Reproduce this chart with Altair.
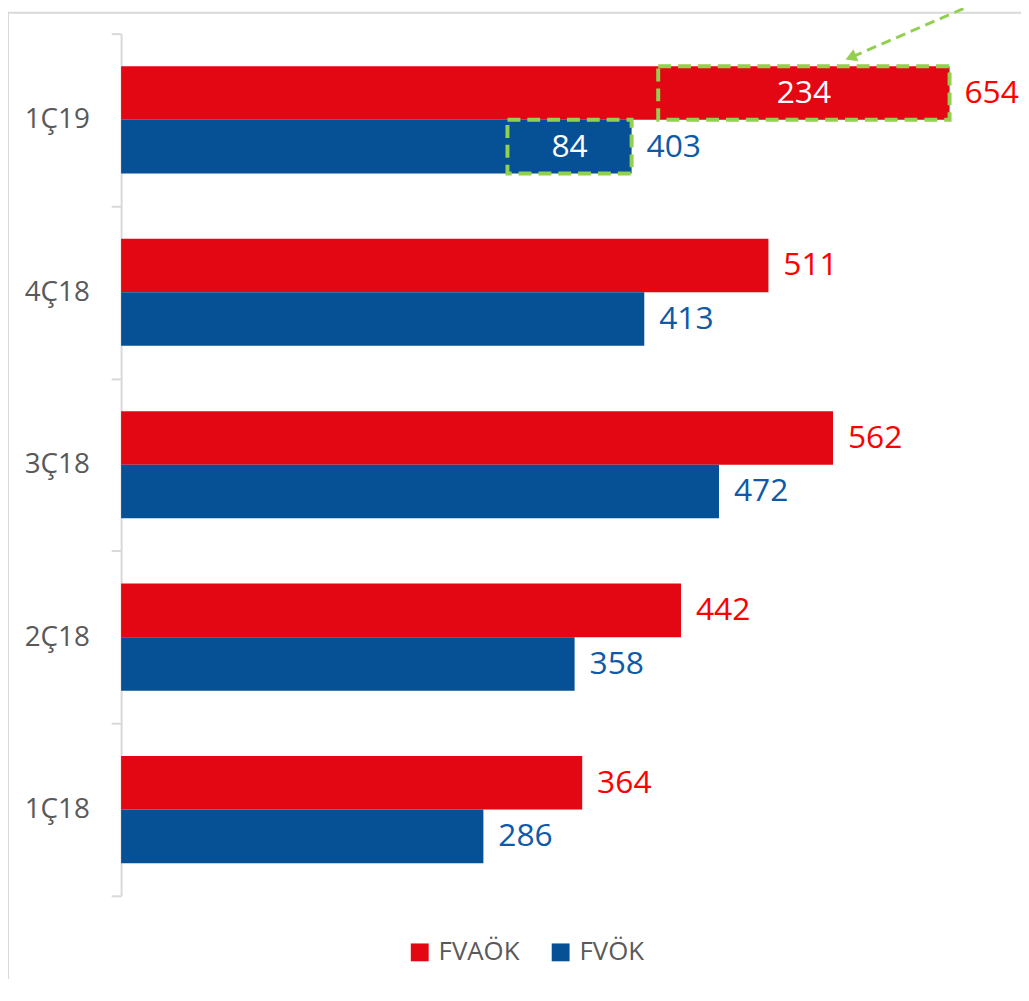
import altair as alt
import pandas as pd

# ---- data ----
quarters = ["1Ç19", "4Ç18", "3Ç18", "2Ç18", "1Ç18"]
series = ["FVAÖK", "FVÖK"]
fvaok = [654, 511, 562, 442, 364]
fvok = [403, 413, 472, 358, 286]

bar_colors = ["#E30613", "#065096"]
label_colors = ["#FF0000", "#0E5AA7"]

# highlighted (dashed) segments in 1Ç19
hl_quarter = ["1Ç19", "1Ç19"]
hl_series = ["FVAÖK", "FVÖK"]
hl_start = [424, 305]
hl_end = [654, 403]
hl_value = [234, 84]

# annotation arrow (x in data units)
arrow_from = [688]
arrow_to = [576]

GREEN = "#92D050"
FONT = "Open Sans"

rows = []
for q, a, b in zip(quarters, fvaok, fvok):
    rows.append({"quarter": q, "series": series[0], "value": a, "lab": label_colors[0]})
    rows.append({"quarter": q, "series": series[1], "value": b, "lab": label_colors[1]})
df = pd.DataFrame(rows)

df_hl = pd.DataFrame({
    "quarter": hl_quarter, "series": hl_series,
    "start": hl_start, "end": hl_end, "delta": hl_value,
})
df_arrow = pd.DataFrame({"x0": arrow_from, "x1": arrow_to})
df_one = pd.DataFrame({"a": [0]})

PLOT_W, PLOT_H = 907, 869
TOP = 22

x_scale = alt.Scale(domain=[0, max(fvaok)], range=[0, 835], nice=False, zero=True)
y_enc = alt.Y(
    "quarter:N", sort=quarters, title=None,
    scale=alt.Scale(paddingInner=0, paddingOuter=0, round=False),
    axis=alt.Axis(
        domainColor="#d9d9d9", domainWidth=2, tickColor="#d9d9d9", tickWidth=2,
        tickSize=10, tickBand="extent", labelFont=FONT, labelFontSize=28,
        labelColor="#595959", labelPadding=22, title=None,
    ),
)
yoff_enc = alt.YOffset("series:N", sort=series,
                       scale=alt.Scale(paddingInner=0, paddingOuter=0.61, round=False))

bars = alt.Chart(df).mark_bar(strokeWidth=0).encode(
    x=alt.X("value:Q", scale=x_scale, axis=None),
    y=y_enc,
    yOffset=yoff_enc,
    color=alt.Color(
        "series:N", sort=series,
        scale=alt.Scale(domain=series, range=bar_colors),
        legend=alt.Legend(
            title=None, orient="none", legendX=288, legendY=913,
            direction="horizontal", symbolType="square", symbolSize=324,
            symbolStrokeWidth=0, labelFont=FONT, labelFontSize=26,
            labelColor="#595959", labelOffset=6, columnPadding=28,
        ),
    ),
)

labels = alt.Chart(df).mark_text(
    align="left", baseline="middle", dx=15, fontSize=32, font=FONT
).encode(
    x=alt.X("value:Q", scale=x_scale, axis=None),
    y=alt.Y("quarter:N", sort=quarters),
    yOffset=yoff_enc,
    text=alt.Text("value:Q"),
    fill=alt.Fill("lab:N", scale=None),
)

boxes = alt.Chart(df_hl).mark_bar(
    fillOpacity=0, stroke=GREEN, strokeWidth=4, strokeDash=[13, 7]
).encode(
    x=alt.X("start:Q", scale=x_scale, axis=None),
    x2="end:Q",
    y=alt.Y("quarter:N", sort=quarters),
    yOffset=yoff_enc,
)

box_text = alt.Chart(df_hl).transform_calculate(
    mid="(datum.start + datum.end) / 2"
).mark_text(
    align="center", baseline="middle", fontSize=32, font=FONT, color="white"
).encode(
    x=alt.X("mid:Q", scale=x_scale, axis=None),
    y=alt.Y("quarter:N", sort=quarters),
    yOffset=yoff_enc,
    text=alt.Text("delta:Q"),
)

arrow_line = alt.Chart(df_arrow).mark_rule(
    color=GREEN, strokeWidth=3, strokeDash=[10, 6]
).encode(
    x=alt.X("x0:Q", scale=x_scale, axis=None),
    x2="x1:Q",
    y=alt.value(-38),
    y2=alt.value(24),
)

arrow_head = alt.Chart(df_arrow).mark_point(
    shape="triangle-up", filled=True, size=170, angle=247.5,
    color=GREEN, opacity=1, strokeWidth=0,
).encode(
    x=alt.X("x1:Q", scale=x_scale, axis=None),
    y=alt.value(24),
)

left_border = alt.Chart(df_one).mark_rule(color="#d9d9d9", strokeWidth=2).encode(
    x=alt.value(-114), y=alt.value(-TOP), y2=alt.value(960)
)
top_border = alt.Chart(df_one).mark_rule(color="#d9d9d9", strokeWidth=2).encode(
    x=alt.value(-114), x2=alt.value(PLOT_W), y=alt.value(-TOP + 1)
)

chart = alt.layer(
    left_border, top_border, bars, boxes, box_text, labels, arrow_line, arrow_head
).properties(
    width=PLOT_W, height=PLOT_H,
    padding={"left": 114, "top": TOP, "right": 0, "bottom": 80},
    autosize=alt.AutoSizeParams(type="none"),
).configure_view(stroke=None)

chart.save("out.html", embed_options={"renderer": "svg", "actions": False})
